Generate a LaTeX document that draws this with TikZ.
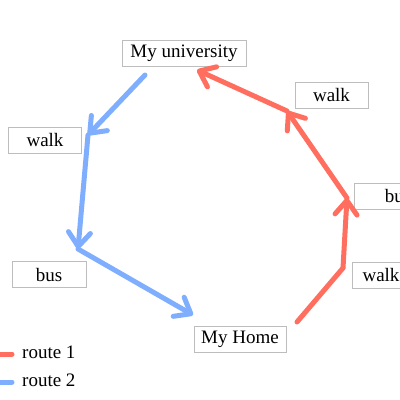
\documentclass[tikz,border=0pt]{standalone}
\usepackage{fontspec}
\setmainfont{Liberation Serif}
\usetikzlibrary{arrows.meta}
\definecolor{rone}{HTML}{FF6E5E}
\definecolor{rtwo}{HTML}{7FAEFF}
\definecolor{boxgray}{HTML}{BDBDBD}
\begin{document}
\begin{tikzpicture}[x=1pt,y=-1pt,
  lbl/.style={draw=boxgray,line width=0.8pt,fill=white,inner sep=0pt,minimum height=26pt,
    font=\fontsize{19}{22}\selectfont},
  legtext/.style={inner sep=0pt,anchor=west,font=\fontsize{19}{22}\selectfont},
  route/.style={line width=5pt,line cap=round,line join=round},
  tip/.style={-{Straight Barb[length=14pt,width=22pt,round]}}]
\useasboundingbox (0,0) rectangle (400,400);
% labels
\node[lbl,minimum width=124pt] (uni) at (184,53) {My university};
\node[lbl,minimum width=73pt] (walkA) at (331.5,95) {walk};
\node[lbl,minimum width=73pt] (walkB) at (45,140) {walk};
\node[lbl,minimum width=88pt] (busA) at (398,196) {bus};
\node[lbl,minimum width=58pt] (walkC) at (381,275) {walk};
\node[lbl,minimum width=74pt] (busB) at (49,274.5) {bus};
\node[lbl,minimum width=92pt] (home) at (240,339) {My Home};
% route 1
\coordinate (r0) at (297,322);
\coordinate (r1) at (343,268);
\coordinate (r2) at (347,198);
\coordinate (r3) at (287,111);
\coordinate (r4) at (197,70);
\draw[route,rone] (r0) -- (r1);
\draw[route,rone,tip] (r1) -- (r2);
\draw[route,rone,tip] (r2) -- (r3);
\draw[route,rone,tip] (r3) -- (r4);
% route 2
\coordinate (b0) at (145,75);
\coordinate (b1) at (88,135);
\coordinate (b2) at (78,249);
\coordinate (b3) at (193,315);
\draw[route,rtwo,tip] (b0) -- (b1);
\draw[route,rtwo,tip] (b1) -- (b2);
\draw[route,rtwo,tip] (b2) -- (b3);
% legend
\coordinate (l1a) at (-5,354);
\coordinate (l1b) at (12,354);
\coordinate (l2a) at (-5,382);
\coordinate (l2b) at (12,382);
\draw[route,rone] (l1a) -- (l1b);
\draw[route,rtwo] (l2a) -- (l2b);
\node[legtext] (leg1) at (22,352) {route 1};
\node[legtext] (leg2) at (22,380) {route 2};
\end{tikzpicture}
\end{document}
